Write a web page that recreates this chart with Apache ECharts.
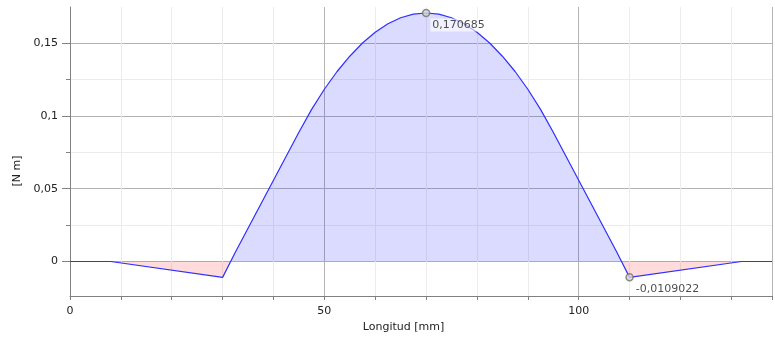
<!DOCTYPE html>
<html>
<head>
<meta charset="utf-8">
<script src="https://cdn.jsdelivr.net/npm/echarts@6/dist/echarts.min.js"></script>
<style>
html,body{margin:0;padding:0;background:#fff;}
#chart{width:775px;height:343px;}
</style>
</head>
<body>
<div id="chart"></div>
<script>
// Longitud [mm]
var xs = [0, 8, 30, 32.5, 35, 37.5, 40, 42.5, 45, 47.5, 50, 52.5, 55, 57.5, 60, 62.5, 65, 67.5, 70,
          72.5, 75, 77.5, 80, 82.5, 85, 87.5, 90, 92.5, 95, 97.5, 100, 102.5, 105, 107.5, 110, 132, 138];
// Momento [N m]
var ys = [0, 0, -0.0109022, 0.0063, 0.0228, 0.0393, 0.0558, 0.0723, 0.0888, 0.1045, 0.1183, 0.1305, 0.1410, 0.1501, 0.1575, 0.1633, 0.1674, 0.1699, 0.170685,
          0.1699, 0.1674, 0.1633, 0.1575, 0.1501, 0.1410, 0.1305, 0.1183, 0.1045, 0.0888, 0.0723, 0.0558, 0.0393, 0.0228, 0.0063, -0.0109022, 0, 0];
// annotated points
var markX = [70, 110];
var markY = [0.170685, -0.0109022];
// ticks
var yMajorTicks = [0, 0.05, 0.1, 0.15];
var yMinorTicks = [0, 0.025, 0.05, 0.075, 0.1, 0.125, 0.15];
var xLabelTicks = [0, 50, 100];

var fmt = function (v) { return String(v).replace('.', ','); };
var data = xs.map(function (x, i) { return [x, ys[i]]; });
var yMax = Math.max.apply(null, ys), yMin = Math.min.apply(null, ys);
var frac = yMax / (yMax - yMin);
var font = 'DejaVu Sans';

var chart = echarts.init(document.getElementById('chart'), null, {renderer: 'canvas'});
chart.setOption({
  animation: false,
  backgroundColor: '#ffffff',
  grid: {left: 70, right: 0, top: 7, bottom: 47, containLabel: false},
  xAxis: [{
    type: 'value', min: 0, max: 138, interval: 10,
    name: 'Longitud [mm]', nameLocation: 'middle', nameGap: 22,
    nameTextStyle: {fontFamily: font, fontSize: 11, color: '#222', padding: [0, 35, 0, 0]},
    axisLine: {show: true, onZero: false, lineStyle: {color: '#808080', width: 1}},
    axisTick: {show: true, length: 4, lineStyle: {color: '#808080'}},
    axisLabel: {fontFamily: font, fontSize: 11, color: '#222', margin: 10,
      formatter: function (v) { return xLabelTicks.indexOf(v) >= 0 ? fmt(v) : ''; }},
    splitLine: {show: true, lineStyle: {color: '#ececec', width: 1}}
  }, {
    type: 'value', min: 0, max: 138, interval: 50, position: 'bottom',
    axisLine: {show: false}, axisTick: {show: false}, axisLabel: {show: false},
    splitLine: {show: true, lineStyle: {color: '#b4b4b4', width: 1}}
  }],
  yAxis: [{
    type: 'value', min: -0.0237, max: 0.1748,
    axisLine: {show: true, onZero: false, lineStyle: {color: '#808080', width: 1}},
    axisTick: {show: true, length: 4, customValues: yMinorTicks, lineStyle: {color: '#808080'}},
    axisLabel: {show: false},
    splitLine: {show: true, lineStyle: {color: '#ececec', width: 1}}
  }, {
    type: 'value', min: -0.0237, max: 0.1748, position: 'left',
    name: '[N m]', nameLocation: 'middle', nameGap: 44, nameRotate: 90,
    nameTextStyle: {fontFamily: font, fontSize: 11, color: '#222', padding: [0, 39, 0, 0]},
    axisLine: {show: false},
    axisTick: {show: true, length: 8, customValues: yMajorTicks, lineStyle: {color: '#808080'}},
    axisLabel: {fontFamily: font, fontSize: 11, color: '#222', margin: 12, customValues: yMajorTicks,
      formatter: function (v) { return fmt(v); }},
    splitLine: {show: true, lineStyle: {color: '#b4b4b4', width: 1}}
  }],
  series: [{
    type: 'line', data: data, xAxisIndex: 0, yAxisIndex: 0,
    showSymbol: false, smooth: false,
    lineStyle: {color: '#2f2fff', width: 1.2},
    areaStyle: {
      origin: 0,
      color: new echarts.graphic.LinearGradient(0, 0, 0, 1, [
        {offset: 0, color: 'rgba(0,0,255,0.2)'},
        {offset: frac, color: 'rgba(0,0,255,0.2)'},
        {offset: frac, color: 'rgba(255,0,0,0.2)'},
        {offset: 1, color: 'rgba(255,0,0,0.2)'}
      ])
    },
    z: 3
  }, {
    type: 'scatter', xAxisIndex: 0, yAxisIndex: 0,
    data: markX.map(function (x, i) { return [x, markY[i]]; }),
    symbol: 'circle', symbolSize: 7,
    itemStyle: {color: '#d4d4d4', borderColor: '#707070', borderWidth: 1.5},
    label: {
      show: true, position: 'right', distance: 0, offset: [0, 12],
      fontFamily: font, fontSize: 11, color: '#222',
      backgroundColor: 'rgba(255,255,255,0.75)', padding: [1, 2, 1, 2],
      formatter: function (p) { return fmt(p.value[1]); }
    },
    z: 5
  }]
});
</script>
</body>
</html>
